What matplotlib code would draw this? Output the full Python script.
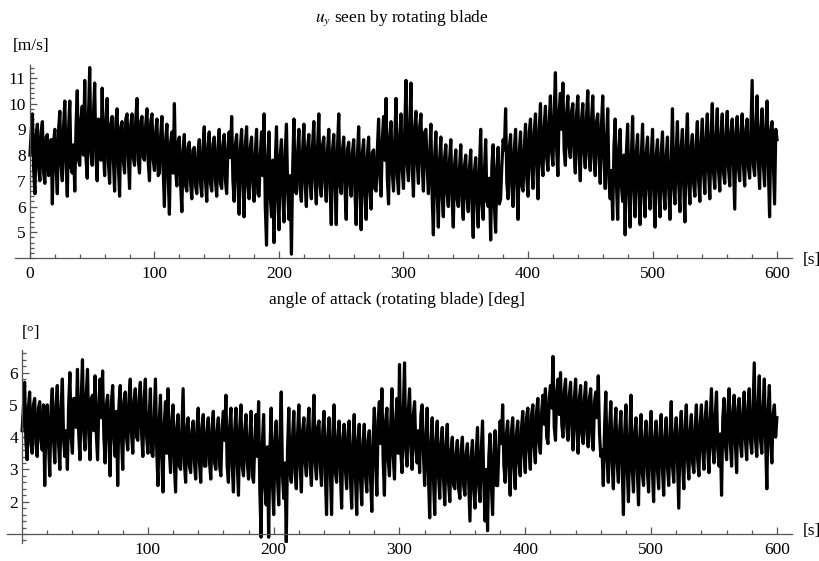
import numpy as np
import matplotlib
matplotlib.use("Agg")
import matplotlib.pyplot as plt
from matplotlib.ticker import MultipleLocator, FixedLocator

# samples: spikes at even seconds, band core at odd seconds
t_even = np.arange(0, 601, 2)
t_odd = np.arange(1, 600, 2)

# u_y seen by rotating blade [m/s]
uy_even = [
    8.0, 9.6, 6.5, 9.2, 7.0, 9.3, 6.9, 8.8, 7.4, 6.1,
    9.0, 6.5, 9.7, 7.0, 10.1, 6.4, 10.1, 7.3, 6.6, 10.5,
    7.6, 9.9, 10.9, 7.1, 11.4, 7.6, 10.8, 7.0, 9.3, 10.6,
    7.2, 10.2, 6.9, 9.5, 6.6, 9.8, 6.4, 9.3, 7.3, 9.6,
    6.7, 9.6, 7.6, 10.2, 7.3, 9.5, 7.8, 9.8, 7.0, 9.6,
    7.4, 9.4, 7.3, 9.5, 6.0, 9.2, 5.7, 8.9, 10.0, 6.8,
    8.7, 5.8, 8.8, 6.6, 8.5, 6.3, 8.3, 6.5, 8.6, 6.4,
    9.1, 6.2, 8.9, 6.6, 8.7, 6.4, 9.0, 6.7, 8.8, 6.5,
    8.9, 9.5, 6.2, 8.8, 5.7, 9.0, 5.6, 9.1, 6.3, 8.7,
    6.2, 9.0, 6.4, 8.9, 9.6, 4.5, 8.9, 5.6, 4.6, 9.1,
    5.1, 8.6, 5.4, 9.2, 5.5, 4.15, 9.4, 6.5, 9.0, 6.2,
    9.2, 6.0, 8.8, 6.3, 9.3, 6.1, 9.6, 6.4, 8.7, 6.2,
    9.0, 5.3, 8.8, 5.3, 9.6, 6.5, 8.7, 5.5, 8.5, 6.4,
    8.6, 5.3, 9.1, 5.1, 8.6, 5.5, 8.7, 5.9, 8.2, 6.6,
    9.4, 6.4, 9.5, 10.2, 6.1, 9.3, 6.6, 10.2, 6.5, 9.6,
    6.7, 10.9, 7.0, 10.8, 6.4, 9.7, 6.9, 9.6, 6.6, 9.0,
    6.5, 9.2, 4.9, 8.9, 5.2, 8.7, 5.6, 8.4, 6.0, 8.6,
    5.2, 8.2, 6.0, 8.4, 5.5, 8.0, 5.8, 8.2, 4.8, 7.9,
    5.2, 9.0, 5.5, 8.6, 6.0, 4.7, 8.4, 5.0, 8.3, 6.3,
    8.6, 9.8, 6.3, 8.8, 6.0, 9.0, 5.5, 8.9, 6.6, 9.2,
    6.4, 9.4, 6.7, 9.6, 6.3, 10.0, 7.2, 9.9, 7.4, 10.3,
    7.6, 11.2, 7.2, 10.4, 10.8, 7.6, 10.3, 7.9, 10.0, 7.3,
    10.3, 7.0, 10.0, 7.5, 10.5, 7.4, 10.3, 7.2, 9.6, 6.9,
    10.3, 6.7, 9.8, 6.3, 5.5, 9.4, 5.5, 9.0, 6.2, 4.9,
    9.2, 5.2, 9.5, 5.6, 8.8, 5.3, 9.2, 5.6, 8.7, 5.9,
    9.0, 5.2, 8.6, 5.6, 8.9, 5.9, 8.7, 5.5, 9.8, 6.1,
    9.3, 5.8, 9.0, 5.4, 9.6, 6.1, 8.8, 6.4, 9.3, 6.2,
    9.4, 6.5, 9.6, 6.3, 10.0, 6.7, 9.8, 6.6, 9.6, 6.9,
    9.7, 6.8, 9.4, 5.9, 9.5, 7.0, 9.6, 6.8, 9.4, 7.1,
    10.9, 7.2, 10.3, 6.7, 9.8, 6.8, 10.1, 5.6, 9.3, 6.1,
    8.6,
]

uy_odd = [
    8.9, 7.4, 8.8, 7.5, 8.9, 7.3, 8.7, 7.2, 8.6, 8.5,
    7.5, 9.0, 7.6, 9.1, 7.7, 9.0, 7.5, 8.4, 9.1, 7.8,
    9.4, 8.0, 7.9, 9.5, 8.1, 9.6, 7.9, 9.4, 7.8, 8.2,
    9.3, 7.7, 9.2, 7.8, 9.3, 7.6, 9.1, 7.8, 9.4, 7.9,
    9.2, 7.9, 9.4, 7.8, 9.3, 7.9, 9.2, 7.7, 9.3, 7.8,
    8.9, 7.2, 8.8, 7.4, 8.6, 7.2, 8.5, 7.3, 7.4, 8.5,
    6.9, 8.2, 6.8, 8.3, 6.9, 8.2, 6.8, 8.1, 6.9, 8.3,
    7.0, 8.3, 6.9, 8.4, 7.0, 8.3, 6.9, 8.4, 7.0, 8.3,
    7.9, 7.0, 8.4, 6.9, 8.3, 7.0, 8.4, 6.8, 8.3, 6.9,
    8.1, 6.5, 8.0, 7.2, 6.0, 7.9, 6.4, 7.8, 7.7, 6.4,
    8.0, 6.5, 8.1, 6.6, 7.2, 7.5, 6.6, 8.1, 6.7, 8.2,
    6.9, 8.3, 6.9, 8.4, 7.0, 8.3, 6.8, 8.4, 6.9, 8.2,
    6.8, 8.2, 6.9, 8.3, 6.8, 8.2, 6.7, 8.2, 6.9, 8.1,
    6.6, 8.0, 6.7, 8.1, 6.5, 8.0, 6.6, 8.1, 6.7, 8.2,
    7.2, 8.6, 7.8, 7.1, 8.7, 7.3, 8.6, 7.2, 8.7, 7.4,
    9.0, 7.6, 9.1, 7.5, 9.0, 7.7, 9.1, 7.6, 8.9, 7.5,
    8.0, 6.4, 7.9, 6.5, 7.8, 6.4, 7.9, 6.5, 7.8, 6.3,
    7.6, 6.3, 7.5, 6.2, 7.6, 6.3, 7.5, 6.1, 7.4, 6.2,
    7.5, 6.1, 7.4, 6.2, 7.1, 7.6, 6.0, 7.5, 6.1, 7.6,
    8.2, 6.9, 8.3, 6.8, 8.2, 6.9, 8.1, 6.8, 8.3, 7.1,
    8.9, 7.5, 8.9, 7.6, 9.0, 7.7, 9.1, 7.9, 9.3, 8.1,
    9.6, 8.2, 9.7, 9.0, 8.2, 9.6, 8.3, 9.7, 8.1, 9.6,
    8.0, 9.4, 8.1, 9.5, 8.0, 9.4, 7.9, 9.3, 8.0, 9.2,
    7.9, 8.5, 7.0, 7.4, 8.3, 6.9, 8.2, 6.8, 8.0, 8.1,
    6.6, 8.0, 6.7, 8.1, 6.6, 8.0, 6.5, 8.1, 6.7, 8.0,
    6.6, 8.0, 6.7, 8.1, 6.6, 8.0, 6.7, 7.6, 6.8, 8.1,
    6.9, 8.3, 6.9, 8.4, 7.0, 8.3, 6.9, 8.4, 7.0, 8.5,
    7.3, 8.7, 7.4, 8.8, 7.3, 8.7, 7.4, 8.8, 7.3, 8.8,
    7.5, 8.9, 7.6, 8.9, 7.5, 8.9, 7.6, 9.0, 7.5, 9.0,
    7.6, 9.1, 7.7, 9.0, 7.6, 9.1, 7.5, 9.0, 7.7, 9.0,
]

# angle of attack seen by rotating blade [deg]
aoa_even = [
    4.2, 5.7, 3.3, 5.4, 3.5, 5.2, 3.4, 5.1, 3.6, 2.5,
    5.0, 2.8, 5.5, 3.2, 5.6, 3.0, 5.8, 3.4, 3.0, 6.0,
    3.5, 5.2, 6.1, 3.3, 6.4, 3.6, 6.1, 3.3, 5.3, 5.9,
    3.3, 5.8, 6.05, 3.2, 5.3, 2.8, 5.6, 3.4, 2.5, 5.6,
    3.0, 5.4, 3.6, 5.8, 3.5, 5.5, 3.9, 5.7, 3.4, 5.8,
    3.5, 5.5, 3.4, 5.8, 2.5, 5.3, 2.3, 5.1, 5.5, 2.9,
    5.0, 2.3, 4.7, 3.0, 5.5, 2.6, 4.6, 2.9, 4.5, 2.7,
    4.9, 2.6, 4.7, 3.1, 4.6, 2.7, 4.8, 3.0, 4.6, 2.8,
    4.8, 5.3, 2.6, 4.9, 2.3, 4.9, 2.2, 5.0, 2.8, 4.7,
    2.7, 4.8, 2.6, 4.7, 5.1, 0.9, 4.7, 1.9, 0.9, 4.9,
    1.6, 4.5, 1.9, 5.4, 2.1, 0.75, 4.9, 2.6, 4.8, 2.4,
    5.0, 2.3, 4.6, 2.8, 4.9, 2.5, 5.3, 2.7, 4.5, 2.5,
    4.8, 1.6, 4.6, 1.6, 5.0, 2.6, 4.5, 1.8, 4.4, 2.4,
    4.5, 1.8, 4.7, 1.6, 4.4, 1.9, 4.4, 2.3, 4.2, 1.7,
    4.9, 2.2, 5.1, 5.5, 2.2, 4.9, 2.8, 5.5, 2.7, 5.2,
    6.25, 2.9, 6.3, 3.1, 5.5, 3.0, 5.1, 3.2, 2.9, 5.0,
    2.5, 4.9, 1.5, 4.6, 1.6, 4.5, 2.1, 4.3, 1.9, 4.4,
    2.0, 4.0, 2.4, 3.9, 2.1, 4.0, 2.2, 3.8, 1.4, 3.9,
    1.8, 4.3, 2.0, 4.5, 1.4, 1.1, 4.1, 1.6, 4.2, 2.5,
    4.5, 5.0, 2.6, 4.5, 2.2, 4.6, 2.4, 4.5, 2.8, 4.8,
    2.9, 4.9, 3.0, 5.0, 3.2, 5.2, 3.5, 5.3, 5.5, 3.8,
    5.6, 6.5, 3.9, 5.8, 6.0, 4.0, 5.8, 3.9, 5.7, 3.6,
    5.8, 3.5, 5.6, 3.8, 5.7, 3.7, 5.5, 3.6, 5.4, 5.9,
    3.4, 2.5, 5.4, 2.6, 5.1, 2.4, 4.9, 2.6, 4.8, 1.6,
    5.0, 2.0, 5.3, 2.3, 4.6, 1.9, 4.7, 2.5, 4.5, 2.3,
    4.8, 2.0, 4.5, 2.4, 4.7, 2.2, 4.6, 2.5, 5.1, 2.6,
    4.6, 1.8, 4.8, 2.4, 5.0, 2.7, 4.7, 2.9, 5.0, 2.8,
    5.0, 3.0, 5.1, 2.9, 5.5, 3.2, 5.4, 3.1, 2.2, 5.2,
    3.3, 5.5, 3.1, 5.3, 2.9, 5.2, 3.4, 5.4, 3.3, 5.5,
    3.5, 6.3, 3.4, 5.9, 3.5, 5.8, 2.4, 5.6, 3.2, 5.0,
    4.6,
]

aoa_odd = [
    4.9, 3.9, 4.9, 3.8, 5.0, 3.8, 4.9, 3.9, 5.0, 4.8,
    3.8, 4.9, 3.9, 5.0, 3.8, 4.9, 3.9, 4.2, 5.0, 4.0,
    5.2, 4.3, 4.1, 5.2, 4.2, 5.3, 4.1, 5.2, 4.2, 4.1,
    5.0, 4.6, 4.0, 5.0, 3.9, 5.1, 4.0, 4.8, 5.0, 4.0,
    5.1, 4.0, 5.2, 4.1, 5.1, 4.0, 5.2, 4.1, 5.2, 4.0,
    4.6, 3.5, 4.6, 3.6, 4.5, 3.4, 4.4, 3.5, 3.6, 4.5,
    3.2, 4.3, 3.1, 4.2, 3.2, 4.3, 3.1, 4.2, 3.2, 4.3,
    3.2, 4.3, 3.1, 4.2, 3.2, 4.3, 3.2, 4.2, 3.1, 4.3,
    3.9, 3.1, 4.3, 3.1, 4.2, 3.2, 4.3, 3.1, 4.2, 3.2,
    4.0, 2.8, 3.9, 3.4, 2.3, 3.8, 2.5, 3.7, 3.6, 2.6,
    3.9, 2.7, 4.0, 2.8, 3.2, 3.6, 2.9, 4.0, 2.9, 4.1,
    3.1, 4.2, 3.2, 4.3, 3.1, 4.2, 3.2, 4.3, 3.1, 4.2,
    2.9, 4.0, 3.0, 4.1, 2.9, 4.0, 2.9, 4.0, 3.0, 4.1,
    2.7, 3.8, 2.8, 3.9, 2.7, 3.8, 2.8, 3.9, 2.7, 3.9,
    3.3, 4.5, 3.8, 3.3, 4.5, 3.3, 4.4, 3.4, 4.5, 3.5,
    3.6, 4.8, 3.6, 4.8, 3.7, 4.7, 3.6, 4.2, 4.7, 3.5,
    3.9, 2.8, 3.8, 2.7, 3.9, 2.8, 3.8, 2.7, 3.8, 2.6,
    3.6, 2.5, 3.5, 2.4, 3.6, 2.5, 3.5, 2.6, 3.4, 2.4,
    3.5, 2.5, 3.6, 2.6, 3.0, 3.4, 2.5, 3.5, 2.5, 3.7,
    3.8, 3.1, 4.1, 3.0, 4.2, 3.1, 4.1, 3.2, 4.3, 3.5,
    4.6, 3.6, 4.7, 3.7, 4.8, 3.8, 4.8, 4.4, 4.0, 5.2,
    4.9, 4.3, 5.4, 4.7, 4.4, 5.4, 4.3, 5.3, 4.3, 5.2,
    4.2, 5.2, 4.1, 5.2, 4.1, 5.2, 4.0, 5.1, 4.6, 4.1,
    3.6, 4.3, 3.3, 4.3, 3.2, 4.2, 3.2, 4.2, 3.1, 4.1,
    3.0, 4.0, 3.0, 4.1, 3.0, 4.0, 2.9, 4.0, 3.0, 4.1,
    3.0, 4.0, 3.0, 4.1, 3.0, 4.0, 3.1, 4.0, 3.1, 4.1,
    3.2, 4.2, 3.2, 4.3, 3.3, 4.2, 3.2, 4.3, 3.3, 4.4,
    3.6, 4.6, 3.6, 4.6, 3.7, 4.7, 3.6, 4.1, 4.6, 3.8,
    4.8, 3.8, 4.8, 3.8, 4.9, 3.8, 4.8, 3.9, 4.9, 3.9,
    4.9, 3.9, 5.0, 3.9, 4.9, 3.9, 4.8, 3.9, 4.7, 4.0,
]

top_xticks = [0, 100, 200, 300, 400, 500, 600]
bot_xticks = [100, 200, 300, 400, 500, 600]


def merge(even, odd):
    tt = np.empty(len(t_even) + len(t_odd))
    yy = np.empty_like(tt)
    tt[0::2], tt[1::2] = t_even, t_odd
    yy[0::2], yy[1::2] = even, odd
    return tt, yy


plt.rcParams['font.family'] = ['Liberation Serif', 'DejaVu Serif']
plt.rcParams['mathtext.fontset'] = 'stix'

W, H = 820, 561
fig = plt.figure(figsize=(W / 100, H / 100), dpi=100)

axis_col = '#555555'


def style_axes(ax, even, odd, xticks, ylo, ymaj):
    tt, yy = merge(even, odd)
    ax.plot(tt, yy, color='black', lw=2.3, solid_joinstyle='round')
    for s in ['top', 'right']:
        ax.spines[s].set_visible(False)
    ax.spines['left'].set_position(('data', 0))
    ax.spines['bottom'].set_position(('data', ylo))
    for s in ['left', 'bottom']:
        ax.spines[s].set_color(axis_col)
        ax.spines[s].set_linewidth(0.9)
    ax.set_xlim(-12, 612)
    ax.xaxis.set_major_locator(FixedLocator(xticks))
    ax.xaxis.set_minor_locator(FixedLocator([v for v in range(20, 601, 20) if v % 100]))
    ax.yaxis.set_major_locator(FixedLocator(ymaj))
    ax.yaxis.set_minor_locator(MultipleLocator(0.2))
    ax.tick_params(which='both', direction='in', color=axis_col, width=0.9,
                   labelsize=12.5, labelcolor='black')
    ax.tick_params(which='major', length=5)
    ax.tick_params(which='minor', length=3)
    ax.tick_params(axis='x', pad=6)
    ax.tick_params(axis='y', pad=3)


ax1 = fig.add_axes([15 / W, 1 - 258 / H, 777 / W, 193 / H])
ax1.set_ylim(4.0, 11.5)
style_axes(ax1, uy_even, uy_odd, top_xticks, 4.0, [5, 6, 7, 8, 9, 10, 11])

ax2 = fig.add_axes([7 / W, 1 - 543 / H, 785 / W, 193 / H])
ax2.set_ylim(0.72, 6.7)
style_axes(ax2, aoa_even, aoa_odd, bot_xticks, 1.0, [2, 3, 4, 5, 6])

fig.text(402 / W, 1 - 18 / H, r'$u_y$ seen by rotating blade', ha='center', va='center', fontsize=12.5)
fig.text(397 / W, 1 - 300 / H, 'angle of attack (rotating blade) [deg]', ha='center', va='center', fontsize=12.5)
fig.text(31 / W, 1 - 46 / H, '[m/s]', ha='center', va='center', fontsize=12.5)
fig.text(31 / W, 1 - 333 / H, '[°]', ha='center', va='center', fontsize=12.5)
fig.text(803 / W, 1 - 260 / H, '[s]', ha='left', va='center', fontsize=12.5)
fig.text(803 / W, 1 - 531 / H, '[s]', ha='left', va='center', fontsize=12.5)

fig.savefig('out.png', dpi=100)
